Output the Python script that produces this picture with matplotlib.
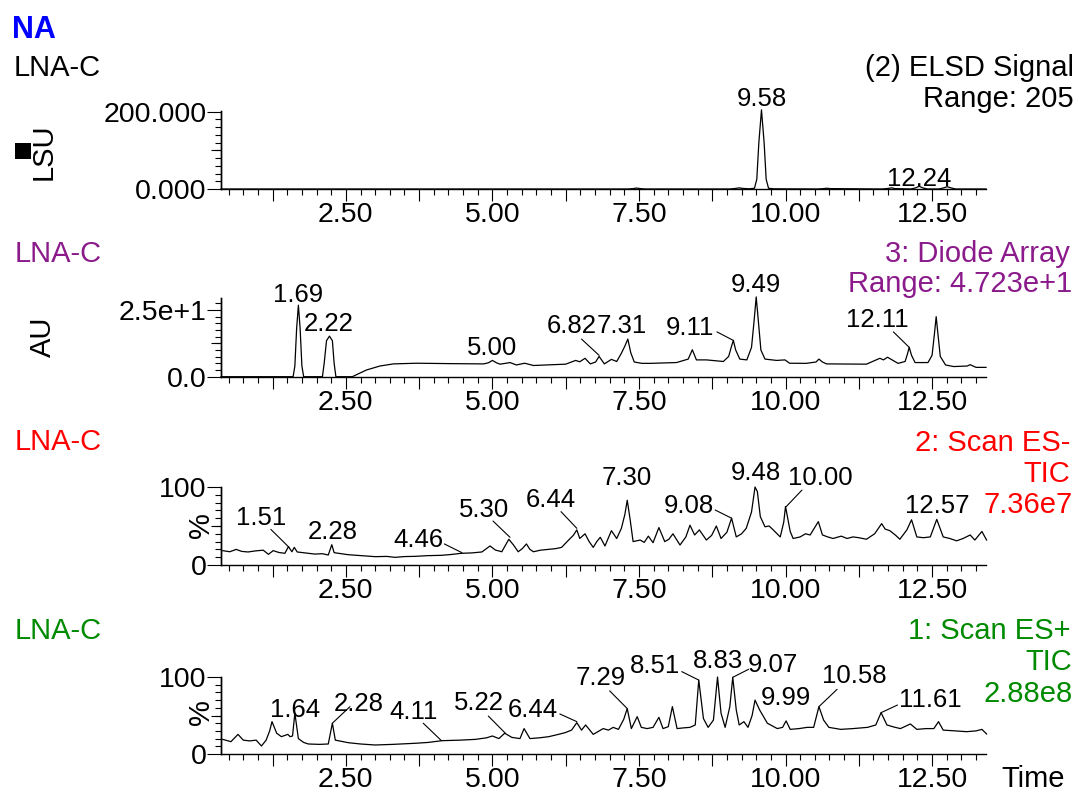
# Stacked LC-MS chromatograms: ELSD, diode array, ES- and ES+ TIC for sample LNA-C

import matplotlib
matplotlib.use("Agg")
import matplotlib.pyplot as plt
from matplotlib.ticker import FixedLocator, MultipleLocator, FuncFormatter, NullLocator
from matplotlib.patches import Rectangle

# ---- data: (retention time in min, signal) ----
elsd_trace = [
    (0.37, 0), (7.30, 0), (7.40, 1), (7.46, 2.5), (7.52, 1), (7.60, 0),
    (9.05, 0), (9.15, 1.5), (9.21, 3), (9.27, 1.5), (9.38, 0.5),
    (9.47, 2), (9.51, 25), (9.545, 120), (9.59, 205), (9.635, 120), (9.67, 25), (9.71, 2),
    (9.80, 0.5), (10.55, 0), (10.65, 1), (10.70, 2), (10.76, 1), (11.65, 0),
    (11.75, 1.5), (11.81, 3), (11.87, 1), (12.14, 0), (12.22, 3), (12.28, 7),
    (12.34, 3), (12.42, 0), (12.62, 0), (12.70, 3), (12.76, 6), (12.82, 3),
    (12.90, 0), (13.42, 0),
]

uv_trace = [
    (0.37, 0), (1.60, 0), (1.63, 4), (1.66, 18), (1.69, 26.8), (1.72, 18), (1.75, 4), (1.78, 0),
    (2.10, 0), (2.13, 5), (2.17, 13.5), (2.22, 15.2), (2.27, 13.5), (2.30, 5), (2.33, 0),
    (2.61, 0), (2.85, 2.5), (3.08, 4.0), (3.31, 4.8), (3.71, 5.05), (4.28, 4.9), (4.85, 4.8),
    (4.93, 5.2), (5.00, 6.1), (5.07, 5.2), (5.13, 4.7), (5.22, 5.0), (5.30, 5.3), (5.41, 4.4),
    (5.55, 5.05), (5.70, 4.2), (6.25, 4.7), (6.42, 6.1), (6.49, 5.6), (6.58, 6.9), (6.67, 4.8),
    (6.76, 5.5), (6.82, 7.6), (6.91, 4.8), (7.03, 6.5), (7.12, 5.7), (7.20, 8.8), (7.26, 11.5),
    (7.31, 14.1), (7.36, 9), (7.42, 5.5), (7.55, 5), (7.69, 5), (8.14, 5.3), (8.34, 6.6),
    (8.41, 10.1), (8.48, 6.3), (8.65, 6.3), (8.94, 5.7), (9.03, 7.6), (9.08, 11.5), (9.11, 13.6),
    (9.15, 10), (9.22, 6.6), (9.34, 6.3), (9.42, 11), (9.46, 20), (9.50, 29.9), (9.54, 20),
    (9.58, 10), (9.65, 6.6), (9.85, 6.1), (9.99, 6.3), (10.07, 5.05), (10.35, 5), (10.52, 5.5),
    (10.57, 6.6), (10.63, 5.5), (10.70, 4.8), (11.38, 4.7), (11.61, 6.9), (11.67, 6.3),
    (11.74, 7.3), (11.92, 5), (12.04, 5.7), (12.08, 8.5), (12.11, 11), (12.15, 8), (12.21, 5.3),
    (12.43, 5.3), (12.50, 8), (12.54, 16), (12.57, 22.5), (12.60, 16), (12.64, 7.6), (12.73, 4.4),
    (12.87, 3.8), (13.10, 4), (13.15, 4.5), (13.25, 3.5), (13.42, 3.5),
]

esneg_trace = [
    (0.40, 18.4), (0.52, 17), (0.63, 20), (0.72, 17.5), (0.83, 16.7), (0.95, 18), (1.09, 19),
    (1.18, 13.7), (1.26, 18.4), (1.36, 16), (1.46, 15), (1.52, 23.5), (1.58, 17), (1.62, 22.6),
    (1.67, 16.7), (1.80, 15.5), (1.97, 14), (2.10, 14.5), (2.20, 12.8), (2.26, 26), (2.30, 15.8),
    (2.42, 14.5), (2.54, 13.2), (2.75, 12), (3.00, 10.7), (3.20, 11), (3.34, 9.8), (3.50, 10.8),
    (3.68, 11.1), (3.90, 12), (4.13, 12.4), (4.30, 13.5), (4.47, 15), (4.65, 15.5), (4.82, 16.7),
    (4.96, 24.4), (5.05, 19.2), (5.16, 17), (5.22, 25), (5.28, 33), (5.36, 25.6), (5.44, 17),
    (5.51, 21), (5.58, 27), (5.64, 20), (5.70, 17), (5.82, 19), (5.95, 20), (6.08, 21),
    (6.18, 22.6), (6.30, 32), (6.38, 38), (6.44, 45), (6.49, 34), (6.58, 40), (6.65, 30),
    (6.72, 22.6), (6.78, 30), (6.84, 35.5), (6.92, 24.4), (7.03, 44), (7.12, 34), (7.20, 47),
    (7.26, 65), (7.30, 83), (7.35, 58), (7.40, 30), (7.52, 32), (7.59, 29), (7.66, 37),
    (7.74, 28.6), (7.84, 48), (7.94, 30), (8.01, 33), (8.08, 40), (8.20, 25.6), (8.30, 36),
    (8.37, 51), (8.45, 38.5), (8.53, 45), (8.65, 32), (8.74, 38), (8.82, 50), (8.90, 34),
    (9.00, 42), (9.08, 60), (9.16, 36), (9.25, 40), (9.33, 47), (9.42, 68), (9.48, 100),
    (9.52, 94), (9.57, 62), (9.65, 49), (9.72, 50), (9.79, 45), (9.91, 36), (9.97, 55),
    (10.00, 75), (10.08, 43), (10.13, 34), (10.25, 36), (10.34, 40), (10.42, 38.5), (10.56, 55.6),
    (10.63, 38.5), (10.72, 36), (10.81, 34), (10.95, 37), (11.05, 34), (11.15, 36), (11.25, 35),
    (11.38, 33), (11.52, 40), (11.64, 53), (11.70, 46), (11.78, 44), (11.88, 38), (11.95, 33),
    (12.07, 45), (12.15, 58), (12.24, 36), (12.35, 35), (12.47, 36), (12.58, 58.5), (12.69, 36),
    (12.80, 34), (12.92, 31), (13.03, 34), (13.15, 38.5), (13.23, 32), (13.35, 43), (13.43, 32),
]

espos_trace = [
    (0.40, 19), (0.54, 16), (0.66, 25.5), (0.75, 18), (0.86, 17), (0.97, 18), (1.06, 10.4),
    (1.14, 18), (1.20, 30), (1.24, 42), (1.32, 27), (1.40, 22.5), (1.51, 25.5), (1.55, 22.5),
    (1.59, 23.4), (1.63, 53), (1.69, 20), (1.78, 15), (1.86, 13), (2.05, 12.5), (2.20, 13),
    (2.27, 40), (2.32, 18), (2.54, 14.7), (2.75, 13), (3.00, 11.7), (3.30, 12.5), (3.68, 13.9),
    (3.90, 15), (4.14, 17.3), (4.45, 18), (4.71, 19), (4.90, 21), (5.00, 23.4), (5.11, 20),
    (5.21, 27), (5.33, 21.6), (5.47, 20), (5.54, 33), (5.64, 20), (5.80, 21), (5.96, 22.5),
    (6.10, 25), (6.24, 27.7), (6.35, 31), (6.44, 40.7), (6.52, 31), (6.59, 37.7), (6.72, 25.5),
    (6.89, 33), (6.98, 31), (7.06, 34.6), (7.15, 32), (7.24, 45), (7.30, 59), (7.37, 33),
    (7.47, 48.5), (7.54, 34.6), (7.64, 33), (7.74, 34.6), (7.84, 47.6), (7.91, 33), (8.00, 35.5),
    (8.07, 61.5), (8.15, 33), (8.27, 34), (8.37, 34.6), (8.46, 37.7), (8.52, 96), (8.60, 46),
    (8.68, 34.6), (8.77, 44), (8.84, 100), (8.90, 53), (8.97, 34.6), (9.05, 61.5), (9.10, 99.6),
    (9.16, 57), (9.21, 37.7), (9.29, 42), (9.36, 34.6), (9.43, 50), (9.48, 70), (9.56, 57),
    (9.69, 40), (9.86, 33), (9.95, 34.6), (10.01, 43), (10.08, 32), (10.23, 33), (10.37, 34.6),
    (10.48, 34.6), (10.57, 61.5), (10.65, 44), (10.74, 34.6), (10.94, 32), (11.15, 33),
    (11.40, 34.6), (11.54, 37.7), (11.63, 53.7), (11.73, 37.7), (11.85, 35), (11.96, 33),
    (12.13, 39), (12.24, 32), (12.40, 33), (12.53, 33), (12.61, 42), (12.69, 31), (12.90, 30),
    (13.09, 29), (13.25, 30), (13.35, 32), (13.43, 26),
]

# peak labels: (text, label x, label baseline y, leader start, leader end)
elsd_labels = [("9.58", 9.60, 214, None, None), ("12.24", 12.28, 8, None, None)]
uv_labels = [
    ("1.69", 1.69, 28.1, None, None),
    ("2.22", 2.21, 17.1, None, None),
    ("5.00", 4.99, 8.1, None, None),
    ("6.82", 6.35, 16.3, (6.52, 14.1), (6.82, 8.0)),
    ("7.31", 7.21, 16.3, None, None),
    ("9.11", 8.37, 15.6, (8.83, 16.8), (9.11, 13.6)),
    ("9.49", 9.50, 31.8, None, None),
    ("12.11", 11.56, 18.7, (11.84, 16.8), (12.11, 11.0)),
]
esneg_labels = [
    ("1.51", 1.06, 51.3, (1.22, 45.7), (1.53, 22.7)),
    ("2.28", 2.27, 33.3, None, None),
    ("4.46", 3.73, 22.6, (4.18, 27), (4.48, 15.8)),
    ("5.30", 4.85, 61, (5.01, 56.4), (5.30, 35.5)),
    ("6.44", 5.99, 74, (6.17, 68.4), (6.44, 47)),
    ("7.30", 7.30, 102.6, None, None),
    ("9.08", 8.35, 66.2, (8.80, 70.5), (9.08, 60)),
    ("9.48", 9.49, 109, None, None),
    ("10.00", 10.59, 102.6, (10.28, 96), (10.01, 74.7)),
    ("12.57", 12.59, 66.2, None, None),
]
espos_labels = [
    ("1.64", 1.64, 48.5, None, None),
    ("2.28", 2.72, 56.3, (2.57, 61.5), (2.27, 40)),
    ("4.11", 3.66, 45, (3.82, 40), (4.13, 17.3)),
    ("5.22", 4.77, 57, (4.93, 49.3), (5.22, 27)),
    ("6.44", 5.69, 48.5, (6.15, 52), (6.44, 42)),
    ("7.29", 6.84, 89.6, (7.00, 82), (7.30, 59)),
    ("8.51", 7.77, 104.8, (8.23, 107), (8.52, 96)),
    ("8.83", 8.84, 111.3, None, None),
    ("9.07", 9.79, 107, (9.37, 110), (9.10, 99.6)),
    ("9.99", 10.00, 63.6, None, None),
    ("10.58", 11.17, 92.6, (10.88, 84), (10.57, 61.5)),
    ("11.61", 12.47, 61.5, (11.91, 63.6), (11.63, 53.7)),
]

plt.rcParams["font.family"] = ["Liberation Sans", "DejaVu Sans"]

W, H = 1078, 794
PURPLE = "#8b1a8b"
RED = "#ff0000"
GREEN = "#008a00"
BLUE = "#0000ff"

fig = plt.figure(figsize=(W / 100, H / 100), dpi=100)


def fx(x):
    return x / W


def fy(y):
    return 1 - y / H


def xlabel_fmt(v, pos):
    # only every second major tick (multiples of 2.5) gets a label
    if abs(v / 2.5 - round(v / 2.5)) < 1e-6:
        return f"{v:.2f}"
    return ""


def make_axes(top, bottom, ytop, yticks, ylabels, ymid, yminor):
    ax = fig.add_axes([fx(221), fy(bottom), fx(986) - fx(221), (bottom - top) / H])
    ax.set_xlim(0.37, 13.42)
    ax.set_ylim(0, ytop)
    ax.patch.set_visible(False)
    for s in ("top", "right"):
        ax.spines[s].set_visible(False)
    for s in ("left", "bottom"):
        ax.spines[s].set_linewidth(1.0)
    ax.xaxis.set_major_locator(MultipleLocator(1.25))
    ax.xaxis.set_minor_locator(MultipleLocator(0.25))
    ax.xaxis.set_major_formatter(FuncFormatter(xlabel_fmt))
    ax.yaxis.set_major_locator(FixedLocator(yticks))
    ax.yaxis.set_major_formatter(FuncFormatter(lambda v, p: ylabels[p] if p is not None and p < len(ylabels) else ""))
    ax.yaxis.set_minor_locator(MultipleLocator(yminor))
    ax.tick_params(axis="x", which="major", length=8.6, width=0.8, labelsize=20.5, pad=1)
    ax.tick_params(axis="x", which="minor", length=4.3, width=0.8)
    ax.tick_params(axis="y", which="major", length=10, width=0.8, labelsize=20.5, pad=0.5)
    ax.tick_params(axis="y", which="minor", length=4, width=0.8)
    # medium-length tick halfway up the y axis
    sec = ax.secondary_yaxis("left")
    sec.set_yticks([ymid])
    sec.set_yticklabels([""])
    sec.yaxis.set_minor_locator(NullLocator())
    sec.tick_params(length=7, width=0.8)
    sec.spines["left"].set_linewidth(1.0)
    return ax


def draw_trace(ax, trace, labels):
    t = [p[0] for p in trace]
    v = [p[1] for p in trace]
    ax.plot(t, v, color="black", lw=0.9, clip_on=False)
    for text, lx, ly, start, end in labels:
        ax.text(lx, ly, text, ha="center", va="baseline", fontsize=18.5, clip_on=False)
        if start is not None:
            ax.annotate("", xy=end, xytext=start, annotation_clip=False,
                        arrowprops=dict(arrowstyle="-", lw=0.8, color="black",
                                        shrinkA=0, shrinkB=0))


ax1 = make_axes(111, 189, 202, [0, 200], ["0.000", "200.000"], 100, 20)
ax2 = make_axes(298, 376.7, 29.5, [0, 25], ["0.0", "2.5e+1"], 12.5, 2.5)
ax3 = make_axes(487, 565, 100, [0, 100], ["0", "100"], 50, 10)
ax4 = make_axes(677, 754, 100, [0, 100], ["0", "100"], 50, 10)

draw_trace(ax1, elsd_trace, elsd_labels)
draw_trace(ax2, uv_trace, uv_labels)
draw_trace(ax3, esneg_trace, esneg_labels)
draw_trace(ax4, espos_trace, espos_labels)


def ftext(x, y, s, color="black", ha="left", **kw):
    fig.text(fx(x), fy(y), s, color=color, ha=ha, va="baseline", fontsize=21, **kw)


# header and panel captions
fig.text(fx(12), fy(38), "NA", color=BLUE, fontsize=22, fontweight="bold", va="baseline")
ftext(14, 76, "LNA-C")
ftext(1074, 76, "(2) ELSD Signal", ha="right")
ftext(1074, 107, "Range: 205", ha="right")

ftext(15, 262, "LNA-C", PURPLE)
ftext(1070, 262, "3: Diode Array", PURPLE, ha="right")
ftext(1072, 292, "Range: 4.723e+1", PURPLE, ha="right")

ftext(15, 450, "LNA-C", RED)
ftext(1070, 451, "2: Scan ES-", RED, ha="right")
ftext(1070, 482, "TIC", RED, ha="right")
ftext(1073, 513, "7.36e7", RED, ha="right")

ftext(15, 639, "LNA-C", GREEN)
ftext(1070, 639, "1: Scan ES+", GREEN, ha="right")
ftext(1072, 670, "TIC", GREEN, ha="right")
ftext(1073, 702, "2.88e8", GREEN, ha="right")

ftext(1065, 787, "Time", ha="right")

# y axis unit labels
fig.text(fx(43.5), fy(152), "LSU", rotation=90, ha="center", va="center", fontsize=21)
fig.text(fx(43), fy(337), "AU", rotation=90, ha="center", va="center", fontsize=21)
fig.text(fx(201), fy(525), "%", rotation=90, ha="center", va="center", fontsize=21)
fig.text(fx(201), fy(712), "%", rotation=90, ha="center", va="center", fontsize=21)
fig.add_artist(Rectangle((fx(15), fy(159)), 16 / W, 16 / H, transform=fig.transFigure,
                         facecolor="black", edgecolor="none"))

fig.savefig("out.png", dpi=100)
